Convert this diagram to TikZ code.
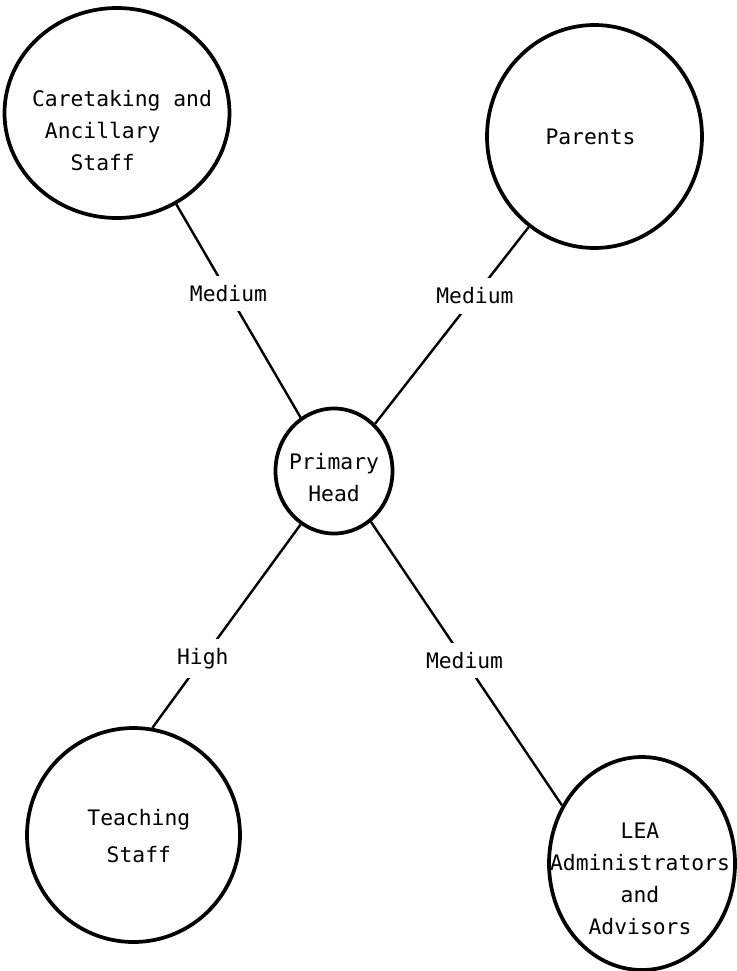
\documentclass[tikz,border=0pt]{standalone}
\usepackage{fontspec}
\setmonofont{DejaVu Sans Mono}
\usetikzlibrary{shapes.geometric}

\tikzset{
	party/.style={draw, ellipse, line width=2.8pt, inner sep=0pt},
	link/.style={line width=1.8pt},
	strength/.style={fill=white, inner xsep=3pt, inner ysep=7pt},
	every label/.style={align=center, inner sep=0pt}}
\tikzset{every picture/.style={line width=0.75pt}}

\begin{document}
\begin{tikzpicture}[x=0.75pt,y=0.75pt,yscale=-1,xscale=1, font=\ttfamily\fontsize{16}{24}\selectfont]
	\path[use as bounding box] (0,0) rectangle (736,971);

	%Shape: Ellipse (centre)
	\node[party, minimum width=87.75pt, minimum height=93.75pt, label={[name=headText, yshift=-5pt]center:{Primary\\Head}}] (head) at (334,471) {};
	%Shape: Ellipse (top left)
	\node[party, minimum width=168.75pt, minimum height=157.5pt, label={[name=careText, align=left, xshift=3.75pt, yshift=-13.5pt]center:{Caretaking and\\\hphantom{x}Ancillary\\\hphantom{xxx}Staff}}] (care) at (117,113) {};
	%Shape: Ellipse (top right)
	\node[party, minimum width=161.25pt, minimum height=167.25pt, label={[name=parentsText, xshift=-3pt]center:{Parents}}] (parents) at (594.5,136.5) {};
	%Shape: Ellipse (bottom left)
	\node[party, minimum width=159.75pt, minimum height=160.5pt, label={[name=teachText, xshift=4pt, yshift=-1pt]center:{Teaching\\[4pt]Staff}}] (teach) at (133.5,835) {};
	%Shape: Ellipse (bottom right)
	\node[party, minimum width=139.5pt, minimum height=159.75pt, label={[name=leaText, xshift=-1.5pt, yshift=-11.25pt]center:{LEA\\Administrators\\and\\Advisors}}] (lea) at (642,863.5) {};

	%Straight Lines
	\draw[link] (care.-57) -- node[strength, pos=0.42] (careLink) {Medium} (head.122);
	\draw[link] (parents.-126) -- node[strength, pos=0.35] (parentsLink) {Medium} (head.49);
	\draw[link] (head.238) -- node[strength, pos=0.66] (teachLink) {High} (teach.80);
	\draw[link] (head.306) -- node[strength, pos=0.49] (leaLink) {Medium} (lea.144);

\end{tikzpicture}
\end{document}
